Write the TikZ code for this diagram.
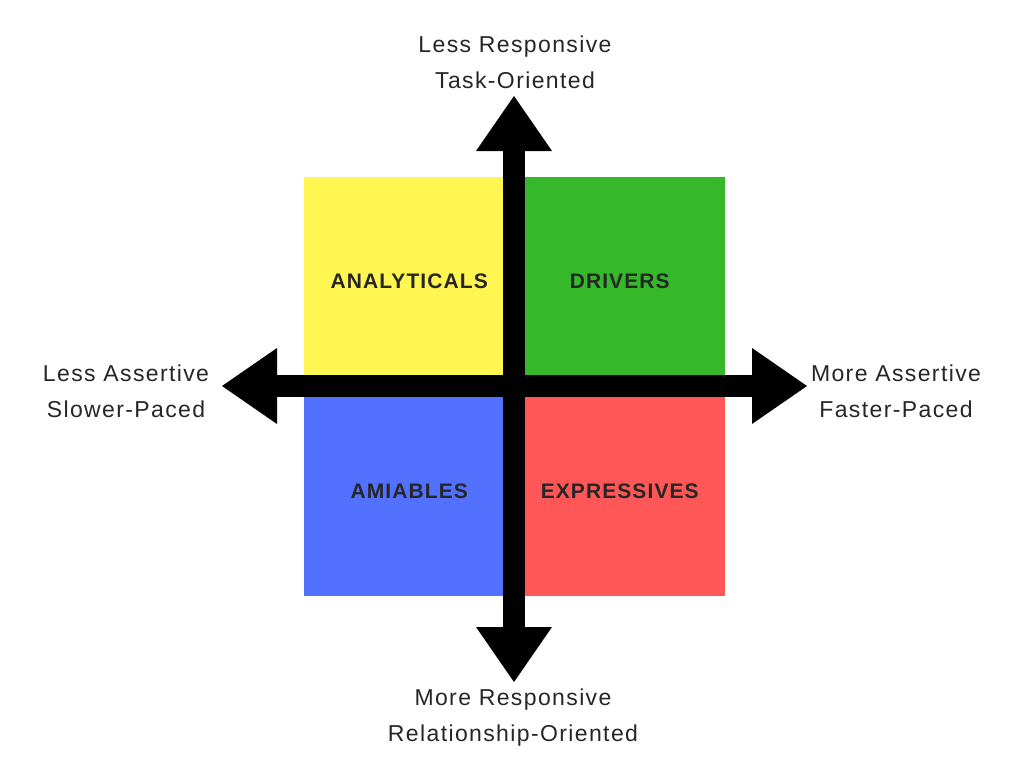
\documentclass[tikz,border=0pt]{standalone}
\usepackage{fontspec}
\setmainfont{Liberation Sans}
\newfontfamily\outerfont[LetterSpace=6]{Liberation Sans}
\newfontfamily\quadfont[LetterSpace=5.2]{Liberation Sans}
\usetikzlibrary{arrows.meta}
\definecolor{qyellow}{HTML}{FFF651}
\definecolor{qgreen}{HTML}{36B82B}
\definecolor{qblue}{HTML}{5271FF}
\definecolor{qred}{HTML}{FF5757}
\definecolor{txt}{HTML}{262626}
\begin{document}
\begin{tikzpicture}[x=1pt,y=-1pt,
  quad/.style={minimum width=210.5pt,minimum height=209.5pt,inner sep=0pt,draw=none,
    text=txt,font=\quadfont\fontsize{21}{25}\selectfont\bfseries},
  outer/.style={align=center,inner sep=0pt,text=txt,font=\outerfont\fontsize{23}{36}\selectfont},
  tipshape/.tip={Triangle[width=76pt,length=55pt,line width=0pt]},
  axis/.style={line width=22pt,tipshape-tipshape}]
\useasboundingbox[fill=white] (0,0) rectangle (1030,772);
\node[quad,fill=qyellow] (ana) at (409.25,281.75) {ANALYTICALS};
\node[quad,fill=qgreen]  (drv) at (619.75,281.75) {DRIVERS};
\node[quad,fill=qblue]   (ami) at (409.25,491.25) {AMIABLES};
\node[quad,fill=qred]    (exp) at (619.75,491.25) {EXPRESSIVES};
\coordinate (vt) at (514,96);
\coordinate (vb) at (514,682);
\coordinate (hl) at (222,386);
\coordinate (hr) at (807,386);
\draw[axis] (vt) -- (vb);
\draw[axis] (hl) -- (hr);
\node[outer] (ltop) at (515,62) {Less Responsive\\Task-Oriented};
\node[outer] (lbot) at (513,718) {More Responsive\\Relationship-Oriented};
\node[outer] (lleft) at (126,391.5) {Less Assertive\\Slower-Paced};
\node[outer] (lright) at (896,391.5) {More Assertive\\Faster-Paced};
\end{tikzpicture}
\end{document}
